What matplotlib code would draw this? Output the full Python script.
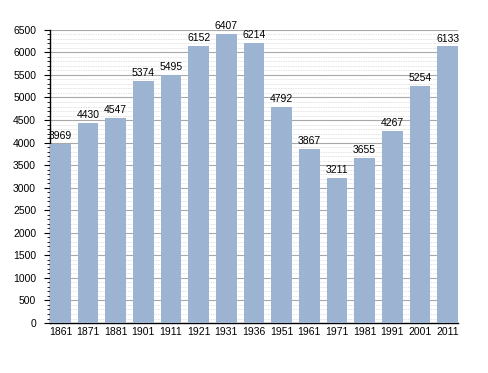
import numpy as np
import matplotlib.pyplot as plt
from matplotlib.ticker import MultipleLocator

years = ['1861', '1871', '1881', '1901', '1911', '1921', '1931', '1936',
         '1951', '1961', '1971', '1981', '1991', '2001', '2011']
population = [3969, 4430, 4547, 5374, 5495, 6152, 6407, 6214,
              4792, 3867, 3211, 3655, 4267, 5254, 6133]

plt.rcParams['font.family'] = ['Liberation Sans', 'DejaVu Sans']

fig = plt.figure(figsize=(4.88, 3.73), dpi=100)
ax = fig.add_axes([0.1025, 0.134, 0.836, 0.786])

x = np.arange(len(years))
w = 0.75
bars = ax.bar(x, population, width=w, color='#9cb4d1', zorder=3)

for xi, v in zip(x, population):
    ax.text(xi, v + 60, str(v), ha='center', va='bottom', fontsize=7.5, zorder=4)

ax.set_xlim(-w / 2, len(years) - 1 + w / 2)
ax.set_ylim(0, 6500)
ax.set_xticks(x)
ax.set_xticklabels(years, fontsize=7.5)
ax.tick_params(axis='x', length=0, pad=3)

ax.yaxis.set_major_locator(MultipleLocator(500))
ax.yaxis.set_minor_locator(MultipleLocator(100))
ax.tick_params(axis='y', which='major', length=4, labelsize=7.5, pad=6)
ax.tick_params(axis='y', which='minor', length=2)

ax.grid(axis='y', which='major', color='#a8a8a8', linewidth=0.8, zorder=1)
ax.grid(axis='y', which='minor', color='#e2e2e2', linewidth=0.6, linestyle=(0, (2, 1)), zorder=1)

for s in ['top', 'right']:
    ax.spines[s].set_visible(False)
ax.spines['left'].set_linewidth(1.0)
ax.spines['bottom'].set_linewidth(1.0)

fig.savefig('out.png', dpi=100)
